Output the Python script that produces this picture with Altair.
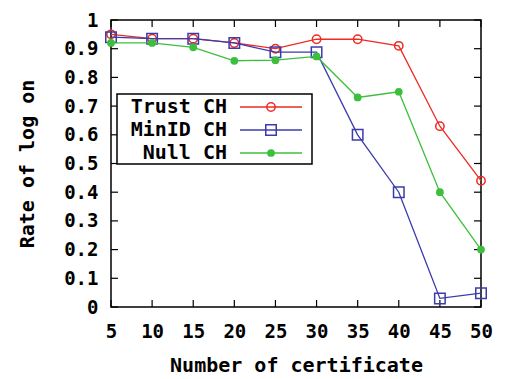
import altair as alt
import pandas as pd

certs = [5, 10, 15, 20, 25, 30, 35, 40, 45, 50]
trust = [0.95, 0.935, 0.935, 0.92, 0.90, 0.933, 0.933, 0.91, 0.63, 0.44]
minid = [0.94, 0.935, 0.935, 0.92, 0.888, 0.888, 0.60, 0.40, 0.03, 0.048]
null = [0.92, 0.92, 0.905, 0.858, 0.86, 0.873, 0.73, 0.75, 0.40, 0.20]
series = ["Trust CH", "MinID CH", "Null CH"]
colors = ["#ee2a22", "#3b3bab", "#3cbf3c"]
shapes = ["circle", "square", "circle"]
filled = [False, False, True]
sizes = [70, 110, 60]
x_ticks = [5, 10, 15, 20, 25, 30, 35, 40, 45, 50]
y_ticks = [0, 0.1, 0.2, 0.3, 0.4, 0.5, 0.6, 0.7, 0.8, 0.9, 1.0]

FONT = "DejaVu Sans Mono"
W, H = 370, 287
TOP = 12

rows = []
for name, vals in zip(series, [trust, minid, null]):
    for c, v in zip(certs, vals):
        rows.append({"series": name, "cert": c, "rate": v})
df = pd.DataFrame(rows)

xs = alt.Scale(domain=[5, 50], nice=False, zero=False)
ys = alt.Scale(domain=[0, 1], nice=False)

axis_style = dict(labelFont=FONT, labelFontWeight="bold", labelColor="black", labelFontSize=19,
                  titleFont=FONT, titleFontSize=20, titleFontWeight="bold", titleColor="black",
                  tickSize=0, domain=False, grid=False, labelOverlap=False, labelFlush=False,
                  labelBound=False)
XAXIS = alt.Axis(values=x_ticks, title="Number of certificate",
                 labelPadding=15, titlePadding=14, **axis_style)
YAXIS = alt.Axis(values=y_ticks, title="Rate of log on", labelPadding=13, titlePadding=26,
                 labelExpr="datum.value == 0 ? '0' : datum.value == 1 ? '1' : format(datum.value, '.1f')",
                 **axis_style)


def X(field):
    return alt.X(field, scale=xs, axis=XAXIS, title="Number of certificate")


def Y(field):
    return alt.Y(field, scale=ys, axis=YAXIS, title="Rate of log on")


base = alt.Chart(df)
layers = []

# inward ticks on all sides
xt = pd.DataFrame({"t": x_ticks})
yt = pd.DataFrame({"t": y_ticks})
layers.append(alt.Chart(xt).mark_rule(color="black", strokeWidth=1.2).encode(
    x=X("t:Q"), y=alt.value(H), y2=alt.value(H - 7)))
layers.append(alt.Chart(xt).mark_rule(color="black", strokeWidth=1.2).encode(
    x=X("t:Q"), y=alt.value(0), y2=alt.value(7)))
layers.append(alt.Chart(yt).mark_rule(color="black", strokeWidth=1.2).encode(
    y=Y("t:Q"), x=alt.value(0), x2=alt.value(7)))
layers.append(alt.Chart(yt).mark_rule(color="black", strokeWidth=1.2).encode(
    y=Y("t:Q"), x=alt.value(W), x2=alt.value(W - 7)))

# data
for name, col, shp, fl, sz in zip(series, colors, shapes, filled, sizes):
    sub = base.transform_filter(alt.datum.series == name)
    layers.append(sub.mark_line(color=col, strokeWidth=1.3).encode(
        x=X("cert:Q"), y=Y("rate:Q")))
    layers.append(sub.mark_point(color=col, shape=shp, filled=fl, size=sz, strokeWidth=1.5,
                                 opacity=1).encode(
        x=X("cert:Q"), y=Y("rate:Q")))

# legend box
one = pd.DataFrame({"a": [0]})
layers.append(alt.Chart(one).mark_rect(fill="white", stroke="black", strokeWidth=1.5).encode(
    x=alt.value(6), x2=alt.value(201), y=alt.value(74), y2=alt.value(144)))
leg_y = [87, 110, 133]
for name, col, shp, fl, sz, ly in zip(series, colors, shapes, filled, sizes, leg_y):
    layers.append(alt.Chart(one).mark_text(text=name, align="right", baseline="middle",
                                           font=FONT, fontSize=20, fontWeight="bold",
                                           color="black").encode(
        x=alt.value(116), y=alt.value(ly)))
    layers.append(alt.Chart(one).mark_rule(color=col, strokeWidth=1.3).encode(
        x=alt.value(129), x2=alt.value(191), y=alt.value(ly)))
    layers.append(alt.Chart(one).mark_point(color=col, shape=shp, filled=fl, size=sz,
                                            strokeWidth=1.5, opacity=1).encode(
        x=alt.value(160), y=alt.value(ly)))

chart = alt.layer(*layers).properties(
    width=W, height=H,
    background="white",
    autosize=alt.AutoSizeParams(type="none"),
    padding={"left": 103, "top": TOP, "right": 30, "bottom": 70},
).configure_view(
    stroke="black", strokeWidth=1.5
)

chart.save("out.html", embed_options={"renderer": "svg", "actions": False})
